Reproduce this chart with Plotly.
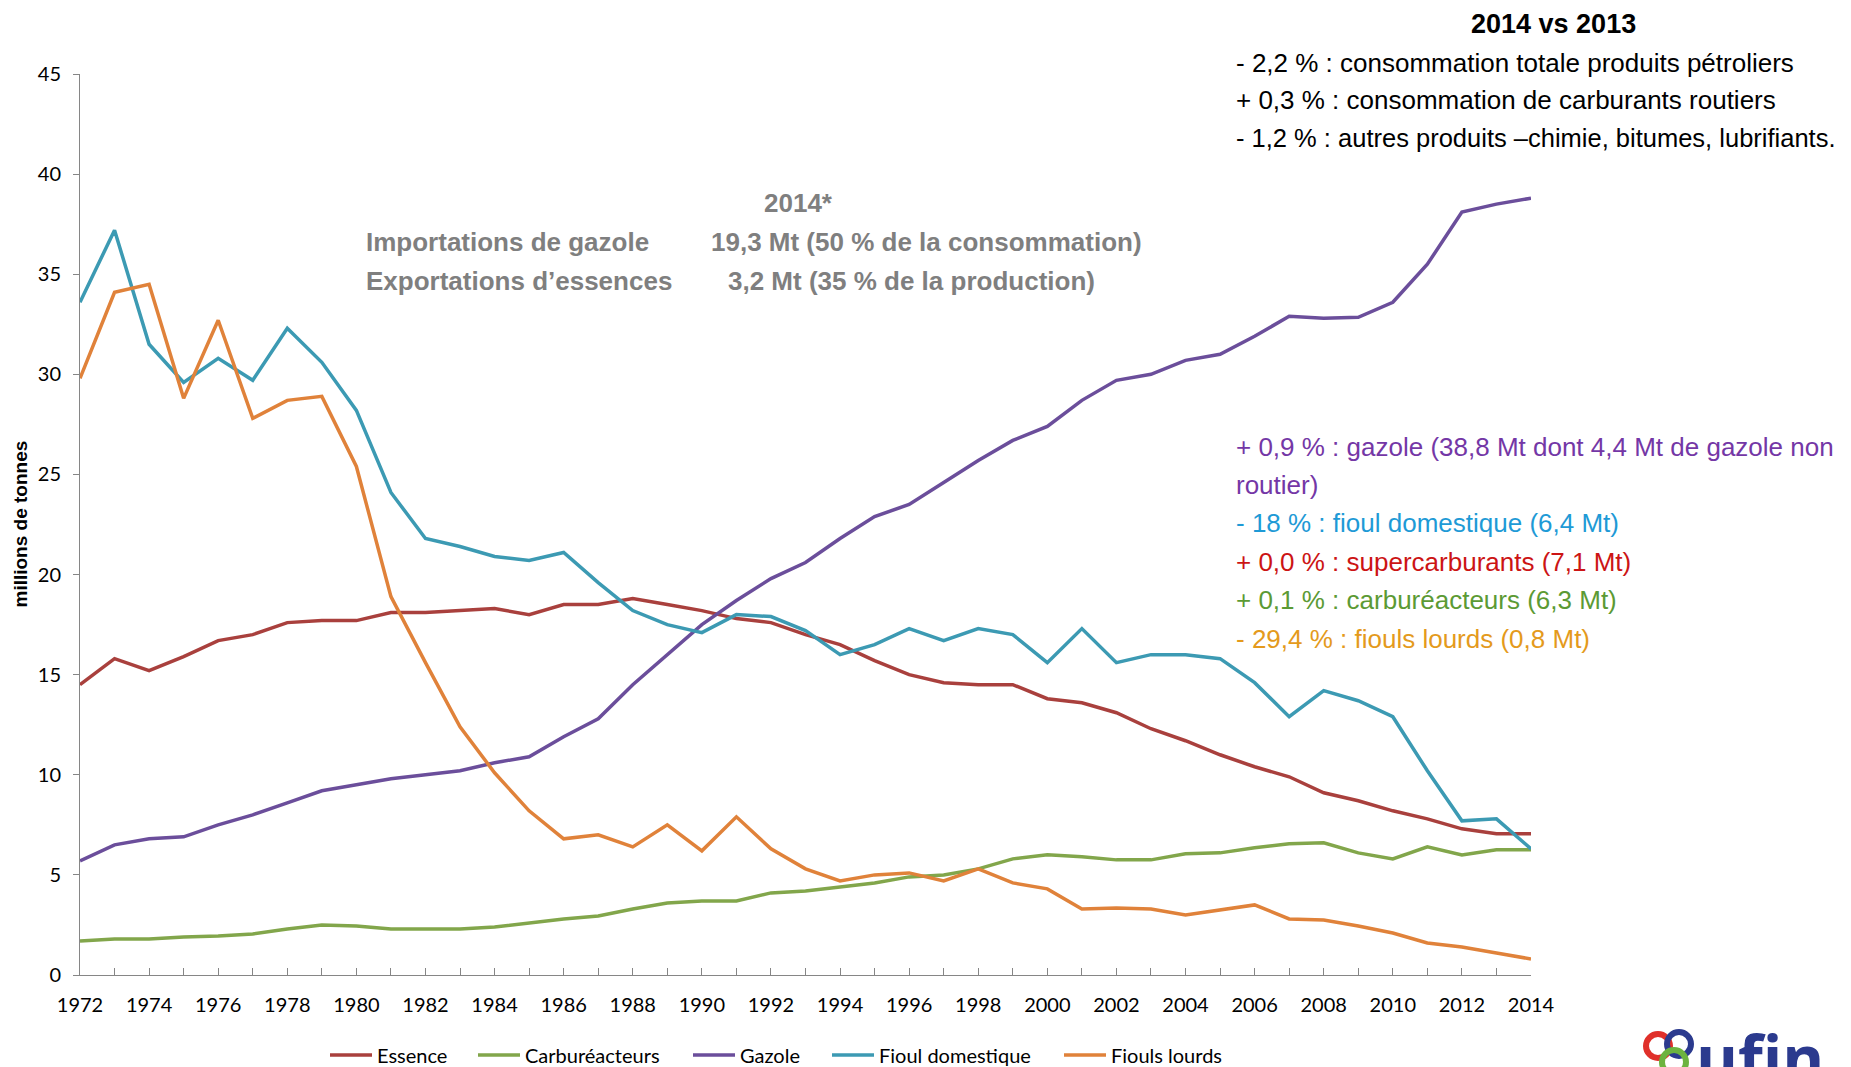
import plotly.graph_objects as go

years = [1972, 1973, 1974, 1975, 1976, 1977, 1978, 1979, 1980, 1981,
         1982, 1983, 1984, 1985, 1986, 1987, 1988, 1989, 1990, 1991,
         1992, 1993, 1994, 1995, 1996, 1997, 1998, 1999, 2000, 2001,
         2002, 2003, 2004, 2005, 2006, 2007, 2008, 2009, 2010, 2011,
         2012, 2013, 2014]

essence = [14.5, 15.8, 15.2, 15.9, 16.7, 17.0, 17.6, 17.7, 17.7, 18.1,
           18.1, 18.2, 18.3, 18.0, 18.5, 18.5, 18.8, 18.5, 18.2, 17.8,
           17.6, 17.0, 16.5, 15.7, 15.0, 14.6, 14.5, 14.5, 13.8, 13.6,
           13.1, 12.3, 11.7, 11.0, 10.4, 9.9, 9.1, 8.7, 8.2, 7.8,
           7.3, 7.05, 7.05]

carbureacteurs = [1.7, 1.8, 1.8, 1.9, 1.95, 2.05, 2.3, 2.5, 2.45, 2.3,
                  2.3, 2.3, 2.4, 2.6, 2.8, 2.95, 3.3, 3.6, 3.7, 3.7,
                  4.1, 4.2, 4.4, 4.6, 4.9, 5.0, 5.3, 5.8, 6.0, 5.9,
                  5.75, 5.75, 6.05, 6.1, 6.35, 6.55, 6.6, 6.1, 5.8, 6.4,
                  6.0, 6.25, 6.25]

gazole = [5.7, 6.5, 6.8, 6.9, 7.5, 8.0, 8.6, 9.2, 9.5, 9.8,
          10.0, 10.2, 10.6, 10.9, 11.9, 12.8, 14.5, 16.0, 17.5, 18.7,
          19.8, 20.6, 21.8, 22.9, 23.5, 24.6, 25.7, 26.7, 27.4, 28.7,
          29.7, 30.0, 30.7, 31.0, 31.9, 32.9, 32.8, 32.85, 33.6, 35.5,
          38.1, 38.5, 38.8]

fioul_domestique = [33.6, 37.2, 31.5, 29.6, 30.8, 29.7, 32.3, 30.6, 28.2, 24.1,
                    21.8, 21.4, 20.9, 20.7, 21.1, 19.6, 18.2, 17.5, 17.1, 18.0,
                    17.9, 17.2, 16.0, 16.5, 17.3, 16.7, 17.3, 17.0, 15.6, 17.3,
                    15.6, 16.0, 16.0, 15.8, 14.6, 12.9, 14.2, 13.7, 12.9, 10.2,
                    7.7, 7.8, 6.3]

fiouls_lourds = [29.8, 34.1, 34.5, 28.8, 32.7, 27.8, 28.7, 28.9, 25.4, 18.9,
                 15.6, 12.4, 10.1, 8.2, 6.8, 7.0, 6.4, 7.5, 6.2, 7.9,
                 6.3, 5.3, 4.7, 5.0, 5.1, 4.7, 5.3, 4.6, 4.3, 3.3,
                 3.35, 3.3, 3.0, 3.25, 3.5, 2.8, 2.75, 2.45, 2.1, 1.6,
                 1.4, 1.1, 0.8]

series = [
    ("Essence", essence, "#A9403D"),
    ("Carburéacteurs", carbureacteurs, "#82A64B"),
    ("Gazole", gazole, "#6B4E9B"),
    ("Fioul domestique", fioul_domestique, "#3C9AB3"),
    ("Fiouls lourds", fiouls_lourds, "#E0823A"),
]
# where each legend entry starts (screen px)
legend_x = [334, 482, 697, 836, 1068]

# page has an 8px body margin; figure is drawn smaller to fit the window
OFF = 8
W, H = 1851 - OFF, 1067 - OFF
L, R, T, B = 80, 1531, 74, 975  # plot area in screen pixels

NARROW = "Liberation Sans Narrow, Arial Narrow, Liberation Sans, sans-serif"
CAL = "Lato, Carlito, Calibri, sans-serif"


def px(x):
    return (x - L) / (R - L)


def py(y):
    return (B - y) / (B - T)


fig = go.Figure()
legends = {}
for i, (name, vals, color) in enumerate(series):
    lg = "legend" if i == 0 else "legend%d" % (i + 1)
    fig.add_trace(go.Scatter(x=years, y=vals, mode="lines", name=name, legend=lg,
                             line=dict(color=color, width=3.5)))
    legends[lg] = dict(orientation="h", x=px(legend_x[i] - 9), xanchor="left",
                       y=py(1055), yanchor="middle", bgcolor="rgba(0,0,0,0)",
                       itemwidth=42,
                       font=dict(size=20, color="#000000", family=CAL))

annots = []
# top-right block
annots.append(dict(text="<b>2014 vs 2013</b>", x=px(1553), y=py(24), xanchor="center",
                   yanchor="middle", font=dict(size=27, color="#000000", family=NARROW)))
for txt, yy, sz in [("- 2,2 % : consommation totale produits pétroliers", 63, 26),
                    ("+ 0,3 % : consommation de carburants routiers", 100, 26),
                    ("- 1,2 % : autres produits –chimie, bitumes, lubrifiants.", 138, 25.5)]:
    annots.append(dict(text=txt, x=px(1234), y=py(yy), xanchor="left", yanchor="middle",
                       font=dict(size=sz, color="#000000", family=NARROW)))

# grey block
gray = "#7F7F7F"
annots.append(dict(text="<b>2014*</b>", x=px(798), y=py(203), xanchor="center", yanchor="middle",
                   font=dict(size=26, color=gray, family=NARROW)))
for txt, xx, yy in [("Importations de gazole", 364, 242),
                    ("19,3 Mt (50 % de la consommation)", 709, 242),
                    ("Exportations d’essences", 364, 281),
                    ("3,2 Mt (35 % de la production)", 726, 281)]:
    annots.append(dict(text="<b>" + txt + "</b>", x=px(xx), y=py(yy), xanchor="left",
                       yanchor="middle", font=dict(size=26, color=gray, family=NARROW)))

# coloured block
for txt, yy, col in [("+ 0,9 % : gazole (38,8 Mt dont 4,4 Mt de gazole non", 447, "#7437A6"),
                     ("routier)", 485, "#7437A6"),
                     ("- 18 % : fioul domestique (6,4 Mt)", 523, "#1E9AD6"),
                     ("+ 0,0 % : supercarburants (7,1 Mt)", 562, "#CC1414"),
                     ("+ 0,1 % : carburéacteurs (6,3 Mt)", 600, "#5C9A34"),
                     ("- 29,4 % : fiouls lourds (0,8 Mt)", 639, "#E49A1C")]:
    annots.append(dict(text=txt, x=px(1234), y=py(yy), xanchor="left", yanchor="middle",
                       font=dict(size=26, color=col, family=NARROW)))

# y axis title
annots.append(dict(text="<b>millions de tonnes</b>", x=px(20), y=0.5, textangle=-90,
                   xanchor="center", yanchor="middle",
                   font=dict(size=19, color="#000000", family=NARROW)))

# logo
annots.append(dict(text="<b>ufin</b>", x=px(1694), y=py(1012), xanchor="left", yanchor="top",
                   font=dict(size=64, color="#2B3A8E", family="Open Sans, sans-serif")))

for a in annots:
    a.update(xref="paper", yref="paper", showarrow=False)

shapes = []
for cx, cy, col in [(1658, 1046, "#E0302A"), (1679, 1044, "#2B3A8E"), (1674, 1062, "#6CB33F")]:
    shapes.append(dict(type="circle", xref="paper", yref="paper",
                       x0=px(cx - 12), x1=px(cx + 12), y0=py(cy + 12), y1=py(cy - 12),
                       line=dict(color=col, width=6)))

fig.update_layout(
    width=W, height=H,
    margin=dict(l=L - OFF, r=W - (R - OFF), t=T - OFF, b=H - (B - OFF), autoexpand=False),
    paper_bgcolor="white", plot_bgcolor="white",
    showlegend=True,
    annotations=annots,
    shapes=shapes,
    xaxis=dict(range=[1972, 2014], tick0=1972, dtick=2, showgrid=False, zeroline=False,
               showline=True, linecolor="#868686", linewidth=1,
               ticks="inside", ticklen=7, tickcolor="#868686", ticklabelstandoff=12,
               minor=dict(dtick=1, ticks="inside", ticklen=7, tickcolor="#868686"),
               tickfont=dict(size=20, color="#000000", family=CAL)),
    yaxis=dict(range=[0, 45], dtick=5, showgrid=False, zeroline=False,
               showline=True, linecolor="#868686", linewidth=1,
               ticks="outside", ticklen=6, tickcolor="#868686", ticklabelstandoff=8,
               tickfont=dict(size=20, color="#000000", family=CAL)),
)
fig.update_layout(**legends)

fig.write_html("out.html")
